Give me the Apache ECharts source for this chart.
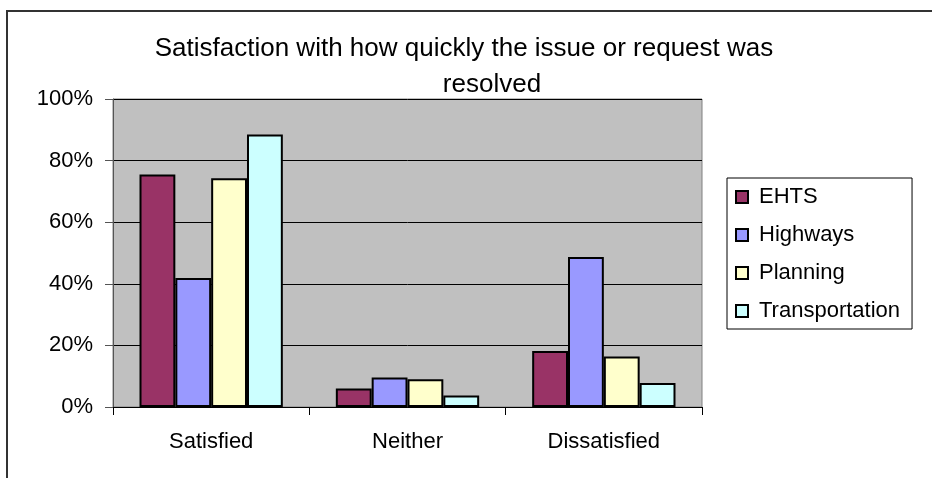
<!DOCTYPE html>
<html>
<head>
<meta charset="utf-8">
<title>Satisfaction with how quickly the issue or request was resolved</title>
<script src="https://cdn.jsdelivr.net/npm/echarts@6/dist/echarts.min.js"></script>
<style>
  html, body { margin: 0; padding: 0; background: #fff; }
  #chart { width: 932px; height: 478px; }
</style>
</head>
<body>
<div id="chart"></div>
<script>
// Response categories along the x axis
const categories = ['Satisfied', 'Neither', 'Dissatisfied'];

// Share of respondents (%) per service area
const ehts = [75.5, 6.0, 18.2];
const highways = [41.9, 9.6, 48.7];
const planning = [74.3, 9.0, 16.4];
const transportation = [88.5, 3.7, 7.8];

const seriesNames = ['EHTS', 'Highways', 'Planning', 'Transportation'];
const seriesColors = ['#993366', '#9999FF', '#FFFFCC', '#CCFFFF'];
const seriesValues = [ehts, highways, planning, transportation];

const titleLines = ['Satisfaction with how quickly the issue or request was', 'resolved'];

const FONT = '"Liberation Sans", Arial, sans-serif';

const chart = echarts.init(document.getElementById('chart'), null, { renderer: 'canvas' });

chart.setOption({
  backgroundColor: '#ffffff',
  animation: false,
  title: [
    {
      text: titleLines[0],
      left: 459, top: 31, textAlign: 'center',
      textStyle: { fontFamily: FONT, fontSize: 26, fontWeight: 'normal', color: '#000' }
    },
    {
      text: titleLines[1],
      left: 487, top: 67, textAlign: 'center',
      textStyle: { fontFamily: FONT, fontSize: 26, fontWeight: 'normal', color: '#000' }
    }
  ],
  graphic: [
    {
      // chart area frame
      type: 'rect',
      silent: true,
      shape: { x: 7, y: 11, width: 1000, height: 1000 },
      style: { fill: 'none', stroke: '#333', lineWidth: 2 }
    }
  ],
  legend: {
    orient: 'vertical',
    left: 727, top: 178,
    padding: [8, 12, 7, 8],
    itemWidth: 12, itemHeight: 12,
    itemGap: 16,
    icon: 'rect',
    borderColor: '#000', borderWidth: 1,
    backgroundColor: '#fff',
    textStyle: { fontFamily: FONT, fontSize: 22, color: '#000', lineHeight: 22, padding: [0, 0, 0, 6] },
    data: seriesNames
  },
  grid: {
    left: 113, right: 230, top: 99, bottom: 71,
    show: true,
    backgroundColor: '#C0C0C0',
    borderColor: '#808080', borderWidth: 1
  },
  xAxis: {
    type: 'category',
    data: categories,
    axisLine: { show: true, lineStyle: { color: '#000', width: 1 } },
    axisTick: { show: true, length: 8, lineStyle: { color: '#000' } },
    axisLabel: { fontFamily: FONT, fontSize: 22, color: '#000', margin: 24 },
    splitLine: { show: false }
  },
  yAxis: {
    type: 'value',
    min: 0, max: 100, interval: 20,
    axisLine: { show: true, lineStyle: { color: '#555', width: 1 } },
    axisTick: { show: true, length: 8, lineStyle: { color: '#555' } },
    axisLabel: { fontFamily: FONT, fontSize: 22, color: '#000', margin: 20, formatter: '{value}%' },
    splitLine: { show: true, lineStyle: { color: '#000', width: 1 } }
  },
  series: seriesNames.map((name, i) => ({
    name: name,
    type: 'bar',
    data: seriesValues[i],
    barGap: '0%',
    barCategoryGap: '27%',
    itemStyle: { color: seriesColors[i], borderColor: '#000', borderWidth: 2 }
  }))
});
</script>
</body>
</html>
